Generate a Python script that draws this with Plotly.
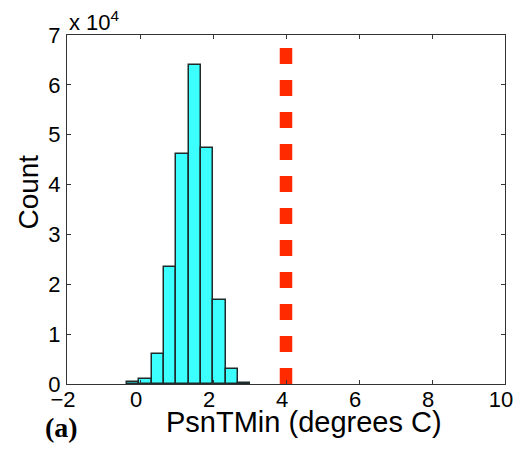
import plotly.graph_objects as go

# ---- data ----
bin_centers = [-0.19, 0.148, 0.486, 0.825, 1.163, 1.501, 1.84, 2.178, 2.516, 2.855]
bin_width = 0.338
counts = [400, 1100, 6000, 23400, 46100, 64000, 47400, 16800, 3100, 300]
threshold_x = [4.0, 4.0]
threshold_y = [0, 70000]
x_ticks = [-2, 0, 2, 4, 6, 8, 10]
y_ticks = [0, 10000, 20000, 30000, 40000, 50000, 60000, 70000]
y_tick_text = ["0", "1", "2", "3", "4", "5", "6", "7"]

SANS = "Liberation Sans, Arial, Helvetica, sans-serif"

fig = go.Figure()
fig.add_trace(go.Bar(
    x=bin_centers, y=counts, width=bin_width,
    marker=dict(color="#3cffff", line=dict(color="#1f2a2a", width=1.5)),
    showlegend=False,
))
fig.add_trace(go.Scatter(
    x=threshold_x, y=threshold_y, mode="lines",
    line=dict(color="#ff2a00", width=12.5, dash="16px,16px"),
    showlegend=False,
))

axis_common = dict(
    showline=True, linecolor="#333333", linewidth=1, mirror="ticks",
    ticks="inside", ticklen=4, tickcolor="#333333", tickwidth=1,
    showgrid=False, zeroline=False,
    tickfont=dict(family=SANS, size=22, color="black"),
)

fig.update_layout(
    width=525, height=451,
    margin=dict(l=67, r=15, t=35, b=67),
    plot_bgcolor="white", paper_bgcolor="white",
    bargap=0,
    xaxis=dict(range=[-2, 10], tickvals=x_ticks, ticklabelshift=-4,
               ticklabelstandoff=-4, ticklabeloverflow="allow", **axis_common),
    yaxis=dict(range=[0, 70000], tickvals=y_ticks, ticktext=y_tick_text,
               ticklabelstandoff=1, **axis_common),
    annotations=[
        dict(text="x 10<sup>4</sup>", xref="paper", yref="paper", x=0.0, y=1.0,
             xanchor="left", yanchor="bottom", showarrow=False, yshift=-2,
             font=dict(family=SANS, size=22, color="black")),
        dict(text="PsnTMin (degrees C)", xref="paper", yref="paper", x=0.54, y=-0.11,
             xanchor="center", yanchor="middle", showarrow=False,
             font=dict(family=SANS, size=29, color="black")),
        dict(text="Count", xref="paper", yref="paper", x=-0.087, y=0.551,
             xanchor="center", yanchor="middle", showarrow=False, textangle=-90,
             font=dict(family=SANS, size=28, color="black")),
        dict(text="<b>(a)</b>", xref="paper", yref="paper", x=-0.013, y=-0.125,
             xanchor="center", yanchor="middle", showarrow=False,
             font=dict(family="Liberation Serif, Times New Roman, serif", size=28, color="black")),
    ],
)

fig.write_html(
    "out.html",
    config={"displayModeBar": False},
    post_script="document.body.style.margin='0';document.documentElement.style.overflow='hidden';document.body.style.overflow='hidden';",
)
